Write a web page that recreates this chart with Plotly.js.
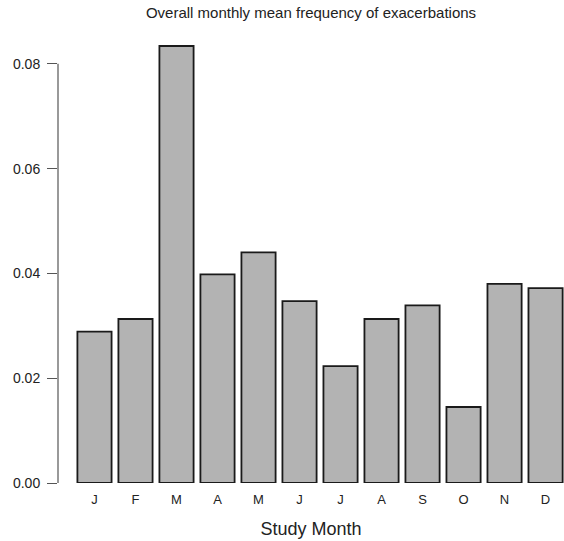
<!DOCTYPE html>
<html>
<head>
<meta charset="utf-8">
<script src="https://cdn.plot.ly/plotly-3.0.1.min.js"></script>
<style>html,body{margin:0;padding:0;background:#fff;}#chart{width:564px;height:541px;}</style>
</head>
<body>
<div id="chart"></div>
<script>
const months = ["J","F","M","A","M","J","J","A","S","O","N","D"];
const monthIds = ["Jan","Feb","Mar","Apr","May","Jun","Jul","Aug","Sep","Oct","Nov","Dec"];
const meanFrequency = [0.0289, 0.0313, 0.0834, 0.0398, 0.0440, 0.0347, 0.0223, 0.0313, 0.0339, 0.0145, 0.0380, 0.0372];
const yTicks = [0, 0.02, 0.04, 0.06, 0.08];
const yTickText = ["0.00","0.02","0.04","0.06","0.08"];

const FONT = "Liberation Sans, Arial, Helvetica, sans-serif";

const trace = {
  type: "bar",
  x: monthIds,
  y: meanFrequency,
  marker: {color: "#b3b3b3", line: {color: "#1a1a1a", width: 1.8}},
  hoverinfo: "x+y"
};

const layout = {
  width: 564, height: 541,
  margin: {l: 58, r: 0, t: 29, b: 58},
  paper_bgcolor: "#ffffff", plot_bgcolor: "#ffffff",
  showlegend: false,
  bargap: 0.1667,
  font: {family: FONT, color: "#222"},
  title: {
    text: "Overall monthly mean frequency of exacerbations",
    font: {size: 15, family: FONT, color: "#222"},
    x: 311/564, xanchor: "center", xref: "container",
    y: 1 - 13/541, yanchor: "middle", yref: "container"
  },
  xaxis: {
    type: "category",
    tickmode: "array", tickvals: monthIds, ticktext: months,
    range: [-0.89, 11.45],
    showline: false, showgrid: false, zeroline: false,
    ticks: "", ticklabelstandoff: 7,
    tickfont: {size: 13, family: FONT, color: "#222"},
    title: {text: "Study Month", font: {size: 18, family: FONT, color: "#222"}, standoff: 16},
    automargin: false, fixedrange: true
  },
  yaxis: {
    range: [0, 0.08664],
    tickmode: "array", tickvals: yTicks, ticktext: yTickText,
    showline: false, showgrid: false, zeroline: false,
    ticks: "outside", ticklen: 10, tickwidth: 1, tickcolor: "#555",
    ticklabelstandoff: 4,
    tickfont: {size: 14, family: FONT, color: "#222"},
    automargin: false, fixedrange: true
  },
  shapes: [{
    type: "line", xref: "paper", yref: "y",
    x0: 0, x1: 0, y0: yTicks[0], y1: yTicks[yTicks.length - 1],
    line: {color: "#555", width: 1.2}
  }]
};

Plotly.newPlot("chart", [trace], layout, {displayModeBar: false, staticPlot: true});
</script>
</body>
</html>
